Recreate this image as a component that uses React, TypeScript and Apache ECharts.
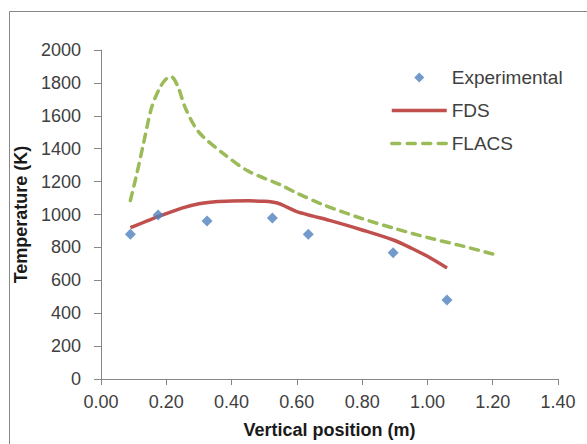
import React, { useEffect, useRef } from "react";
import * as echarts from "echarts";

const expX = [0.09, 0.175, 0.325, 0.525, 0.635, 0.895, 1.06];
const expY = [880, 997, 960, 978, 880, 768, 480];

const fdsX = [0.09, 0.15, 0.2, 0.25, 0.3, 0.35, 0.4, 0.45, 0.5, 0.54, 0.57, 0.6, 0.65, 0.7, 0.8, 0.9, 0.95, 1.0, 1.06];
const fdsY = [920, 968, 1005, 1040, 1065, 1077, 1082, 1083, 1080, 1070, 1045, 1017, 990, 964, 906, 842, 796, 746, 675];

const flacsX = [0.09, 0.11, 0.13, 0.155, 0.18, 0.2, 0.215, 0.235, 0.26, 0.3, 0.375, 0.45, 0.55, 0.6, 0.68, 0.8, 0.9, 1.0, 1.1, 1.2];
const flacsY = [1085, 1250, 1430, 1650, 1770, 1825, 1838, 1780, 1640, 1500, 1370, 1265, 1180, 1130, 1060, 975, 915, 860, 812, 760];

const xTicks = { min: 0, max: 1.4, interval: 0.2 };
const yTicks = { min: 0, max: 2000, interval: 200 };

const seriesNames = ["Experimental", "FDS", "FLACS"];

const FONT = "'Liberation Sans', Arial, sans-serif";
const TEXT = "#404040";
const AXIS = "#868686";

export default function App() {
  const ref = useRef<HTMLDivElement>(null);
  useEffect(() => {
    if (!ref.current) return;
    const chart = echarts.init(ref.current, undefined, { renderer: "svg" });
    chart.setOption({
      animation: false,
      backgroundColor: "#ffffff",
      textStyle: { fontFamily: FONT },
      graphic: [
        {
          type: "rect",
          z: -1,
          shape: { x: 9.5, y: 11.5, width: 700, height: 600 },
          style: { fill: "none", stroke: "#888888", lineWidth: 1 },
        },
      ],
      grid: { left: 101, right: 29, top: 50, bottom: 65, containLabel: false },
      legend: {
        orient: "vertical",
        left: 390,
        top: 68,
        padding: 0,
        itemWidth: 55,
        itemHeight: 10,
        itemGap: 14,
        symbolKeepAspect: true,
        textStyle: { fontSize: 19, color: TEXT, fontFamily: FONT },
        data: [
          { name: seriesNames[0], icon: "path://M0,5L5,0L10,5L5,10Z" },
          {
            name: seriesNames[1],
            itemStyle: { opacity: 0 },
            lineStyle: { width: 3.5, color: "#C0504D" },
          },
          {
            name: seriesNames[2],
            itemStyle: { opacity: 0 },
            lineStyle: { width: 3.5, color: "#9BBB59", type: [8, 7.5], cap: "round" },
          },
        ],
      },
      xAxis: {
        type: "value",
        min: xTicks.min,
        max: xTicks.max,
        interval: xTicks.interval,
        name: "Vertical position (m)",
        nameLocation: "middle",
        nameGap: 42,
        nameTextStyle: { fontSize: 18, fontWeight: "bold", color: "#1a1a1a", fontFamily: FONT },
        axisLine: { show: true, lineStyle: { color: AXIS, width: 1 } },
        axisTick: { show: true, inside: false, length: 6, lineStyle: { color: AXIS } },
        axisLabel: {
          fontSize: 18,
          color: TEXT,
          margin: 14,
          formatter: (v: number) => v.toFixed(2),
        },
        splitLine: { show: false },
      },
      yAxis: {
        type: "value",
        min: yTicks.min,
        max: yTicks.max,
        interval: yTicks.interval,
        name: "Temperature (K)",
        nameLocation: "middle",
        nameGap: 48,
        nameRotate: 90,
        nameTextStyle: { fontSize: 18, fontWeight: "bold", color: "#1a1a1a", fontFamily: FONT },
        axisLine: { show: true, lineStyle: { color: AXIS, width: 1 } },
        axisTick: { show: true, inside: false, length: 7, lineStyle: { color: AXIS } },
        axisLabel: { fontSize: 18, color: TEXT, margin: 20, formatter: (v: number) => String(v) },
        splitLine: { show: false },
      },
      series: [
        {
          name: seriesNames[0],
          type: "scatter",
          symbol: "diamond",
          symbolSize: 11,
          itemStyle: { color: "#4F81BD" },
          data: expX.map((x, i) => [x, expY[i]]),
          z: 5,
        },
        {
          name: seriesNames[1],
          type: "line",
          smooth: 0.3,
          showSymbol: false,
          symbol: "none",
          lineStyle: { color: "#C0504D", width: 3.5 },
          itemStyle: { color: "#C0504D" },
          data: fdsX.map((x, i) => [x, fdsY[i]]),
          z: 3,
        },
        {
          name: seriesNames[2],
          type: "line",
          smooth: 0.3,
          showSymbol: false,
          symbol: "none",
          lineStyle: { color: "#9BBB59", width: 3.5, type: [8, 7], cap: "round" },
          itemStyle: { color: "#9BBB59" },
          data: flacsX.map((x, i) => [x, flacsY[i]]),
          z: 2,
        },
      ],
    });
    return () => chart.dispose();
  }, []);
  return (
    <div
      ref={ref}
      style={{ position: "fixed", left: 0, top: 0, width: 587, height: 444 }}
    />
  );
}
